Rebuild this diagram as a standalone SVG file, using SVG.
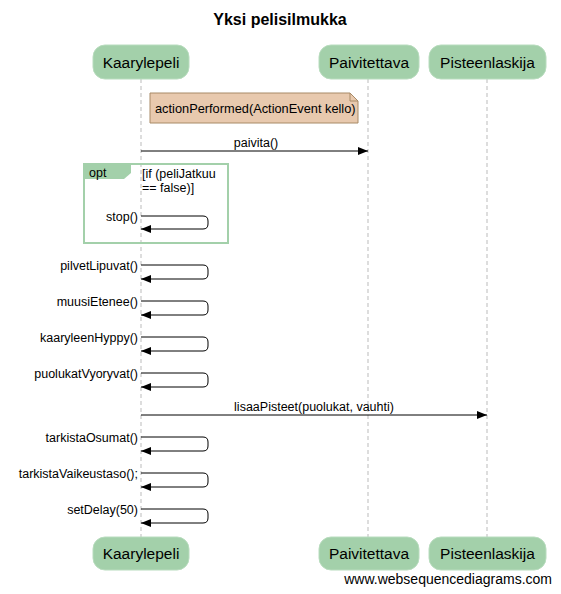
<svg xmlns="http://www.w3.org/2000/svg" width="561" height="594" viewBox="0 0 561 594">
<style>
text{font-family:"Liberation Sans",Arial,sans-serif;fill:#000}
.part rect{fill:#a3d0aa;stroke:#b8dcbe;stroke-width:1}
.pt{font-size:15.5px;text-anchor:middle}
.lbl{font-size:12.5px}
.r{text-anchor:end}
.c{text-anchor:middle}
.life{stroke:#bbb;stroke-width:1;stroke-dasharray:4,3}
.msg{stroke:#000;stroke-width:1;fill:none}
</style>
<defs>
<marker id="ah" markerWidth="12" markerHeight="12" refX="10" refY="6" orient="auto" markerUnits="userSpaceOnUse">
<path d="M0,2 L10,6 L0,10 Z" fill="#000"/>
</marker>
</defs>
<rect width="561" height="594" fill="#fff"/>
<text x="280" y="25" font-size="16" font-weight="bold" text-anchor="middle">Yksi pelisilmukka</text>
<g id="lifelines">
<line class="life" x1="141" y1="79" x2="141" y2="537"/>
<line class="life" x1="368" y1="79" x2="368" y2="537"/>
<line class="life" x1="487" y1="79" x2="487" y2="537"/>
</g>
<g id="p_kaarylepeli" class="part">
<rect x="93" y="45" width="96" height="34" rx="12"/>
<text class="pt" x="141" y="68">Kaarylepeli</text>
</g>
<g id="p_paivitettava" class="part">
<rect x="319" y="45" width="100" height="34" rx="12"/>
<text class="pt" x="369" y="68">Paivitettava</text>
</g>
<g id="p_pisteenlaskija" class="part">
<rect x="429" y="45" width="117" height="34" rx="12"/>
<text class="pt" x="487.5" y="68">Pisteenlaskija</text>
</g>
<g id="p_kaarylepeli_b" class="part">
<rect x="93" y="537" width="96" height="33" rx="12"/>
<text class="pt" x="141" y="559">Kaarylepeli</text>
</g>
<g id="p_paivitettava_b" class="part">
<rect x="319" y="537" width="100" height="33" rx="12"/>
<text class="pt" x="369" y="559">Paivitettava</text>
</g>
<g id="p_pisteenlaskija_b" class="part">
<rect x="429" y="537" width="117" height="33" rx="12"/>
<text class="pt" x="487.5" y="559">Pisteenlaskija</text>
</g>
<g id="note">
<path d="M150,93 H350 L358,101 V123 H150 Z" fill="#e8c9ae" stroke="#a88a66" stroke-width="1"/>
<path d="M350,93 V101 H358" fill="none" stroke="#a88a66" stroke-width="1"/>
<text x="155" y="113" font-size="12.8">actionPerformed(ActionEvent kello)</text>
</g>
<g id="opt">
<rect x="84" y="164" width="144" height="79" fill="none" stroke="#a3d0aa" stroke-width="2"/>
<path d="M84,164 H131 V173 L124,179 H84 Z" fill="#a3d0aa"/>
<text class="lbl" x="89" y="177">opt</text>
<text class="lbl" x="142" y="178">[if (peliJatkuu</text>
<text class="lbl" x="142" y="192">== false)]</text>
</g>
<g id="connectors">
<line class="msg" x1="141" y1="151" x2="368" y2="151" marker-end="url(#ah)"/>
<text class="lbl c" x="256" y="147">paivita()</text>
<path class="msg" d="M141,216 H203 Q208,216 208,221 V224 Q208,229 203,229 H141" marker-end="url(#ah)"/>
<text class="lbl r" x="138" y="221">stop()</text>
<path class="msg" d="M141,265 H203 Q208,265 208,270 V274 Q208,279 203,279 H141" marker-end="url(#ah)"/>
<text class="lbl r" x="138" y="270">pilvetLipuvat()</text>
<path class="msg" d="M141,301 H203 Q208,301 208,306 V310 Q208,315 203,315 H141" marker-end="url(#ah)"/>
<text class="lbl r" x="138" y="306">muusiEtenee()</text>
<path class="msg" d="M141,337 H203 Q208,337 208,342 V346 Q208,351 203,351 H141" marker-end="url(#ah)"/>
<text class="lbl r" x="138" y="342">kaaryleenHyppy()</text>
<path class="msg" d="M141,373 H203 Q208,373 208,378 V382 Q208,387 203,387 H141" marker-end="url(#ah)"/>
<text class="lbl r" x="138" y="378">puolukatVyoryvat()</text>
<line class="msg" x1="141" y1="415" x2="487" y2="415" marker-end="url(#ah)"/>
<text class="lbl c" x="314" y="411">lisaaPisteet(puolukat, vauhti)</text>
<path class="msg" d="M141,437 H203 Q208,437 208,442 V446 Q208,451 203,451 H141" marker-end="url(#ah)"/>
<text class="lbl r" x="138" y="442">tarkistaOsumat()</text>
<path class="msg" d="M141,473 H203 Q208,473 208,478 V482 Q208,487 203,487 H141" marker-end="url(#ah)"/>
<text class="lbl r" x="138" y="478">tarkistaVaikeustaso();</text>
<path class="msg" d="M141,509 H203 Q208,509 208,514 V518 Q208,523 203,523 H141" marker-end="url(#ah)"/>
<text class="lbl r" x="138" y="514">setDelay(50)</text>
</g>
<text x="552" y="584" font-size="14" text-anchor="end">www.websequencediagrams.com</text>
</svg>
